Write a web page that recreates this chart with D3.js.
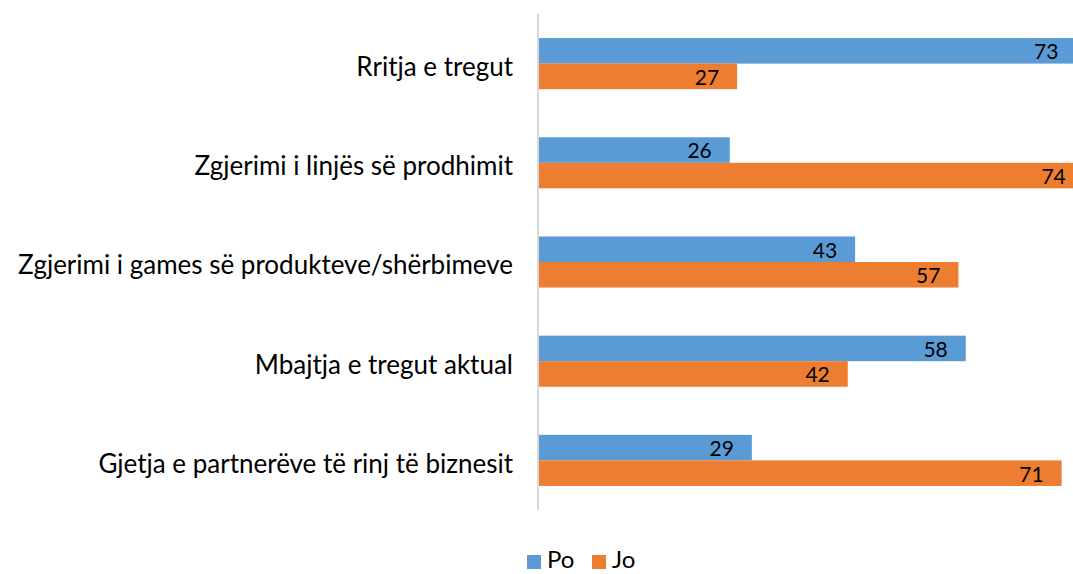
<!DOCTYPE html>
<html>
<head>
<meta charset="utf-8">
<script src="https://cdn.jsdelivr.net/npm/d3@7"></script>
<style>
  html, body { margin: 0; padding: 0; background: #fff; }
  svg { display: block; }
  text { font-family: Lato, "Open Sans", sans-serif; fill: #000; }
</style>
</head>
<body>
<svg id="chart" width="1073" height="574"></svg>
<script>
// Survey categories (top to bottom) and the share answering each way (%)
const categories = [
  "Rritja e tregut",
  "Zgjerimi i linjës së prodhimit",
  "Zgjerimi i games së produkteve/shërbimeve",
  "Mbajtja e tregut aktual",
  "Gjetja e partnerëve të rinj të biznesit"
];
const seriesNames = ["Po", "Jo"];
const poValues = [73, 26, 43, 58, 29];
const joValues = [27, 74, 57, 42, 71];
const seriesColors = ["#5B9BD5", "#ED7D31"];

const rows = categories.map((c, i) => ({ category: c, Po: poValues[i], Jo: joValues[i] }));

const svg = d3.select("#chart");
const plot = { left: 538, top: 14, bottom: 510 };

const x = d3.scaleLinear().domain([0, 80]).range([plot.left, plot.left + 590]);
const y = d3.scaleBand().domain(categories).range([plot.top, plot.bottom])
  .paddingInner(0.485).paddingOuter(0.2425);
const ySub = d3.scaleBand().domain(seriesNames).range([0, y.bandwidth()]);
const color = d3.scaleOrdinal().domain(seriesNames).range(seriesColors);

// Bars
const groups = svg.append("g").selectAll("g")
  .data(rows).join("g")
  .attr("transform", d => `translate(0,${y(d.category)})`);

groups.selectAll("rect")
  .data(d => seriesNames.map(s => ({ series: s, value: d[s] })))
  .join("rect")
  .attr("x", x(0))
  .attr("y", d => ySub(d.series))
  .attr("width", d => x(d.value) - x(0))
  .attr("height", ySub.bandwidth())
  .attr("fill", d => color(d.series));

// Value labels, inside the bar end
groups.selectAll("text.val")
  .data(d => seriesNames.map(s => ({ series: s, value: d[s] })))
  .join("text")
  .attr("class", "val")
  .attr("x", d => x(d.value) - 18)
  .attr("y", d => ySub(d.series) + ySub.bandwidth() / 2)
  .attr("dy", "0.4em")
  .attr("text-anchor", "end")
  .style("font-size", "21px")
  .text(d => d.value);

// Category axis
const yAxis = svg.append("g")
  .attr("transform", `translate(${plot.left},0)`)
  .call(d3.axisLeft(y).tickSize(0).tickPadding(25));
yAxis.select(".domain")
  .attr("d", `M0,${plot.top}V${plot.bottom}`)
  .attr("stroke", "#D9D9D9")
  .attr("stroke-width", 2);
yAxis.selectAll(".tick text")
  .style("font-size", "26px")
  .attr("dy", "0.48em")
  .style("font-family", "Lato, 'Open Sans', sans-serif")
  .attr("fill", "#000");

// Legend
const legend = svg.append("g").attr("transform", "translate(527,555)");
const legendX = [0, 65];
const items = legend.selectAll("g").data(seriesNames).join("g")
  .attr("transform", (d, i) => `translate(${legendX[i]},0)`);
items.append("rect").attr("width", 14).attr("height", 14).attr("fill", d => color(d));
items.append("text").attr("x", 20).attr("y", 13)
  .style("font-size", "24px").text(d => d);
</script>
</body>
</html>
